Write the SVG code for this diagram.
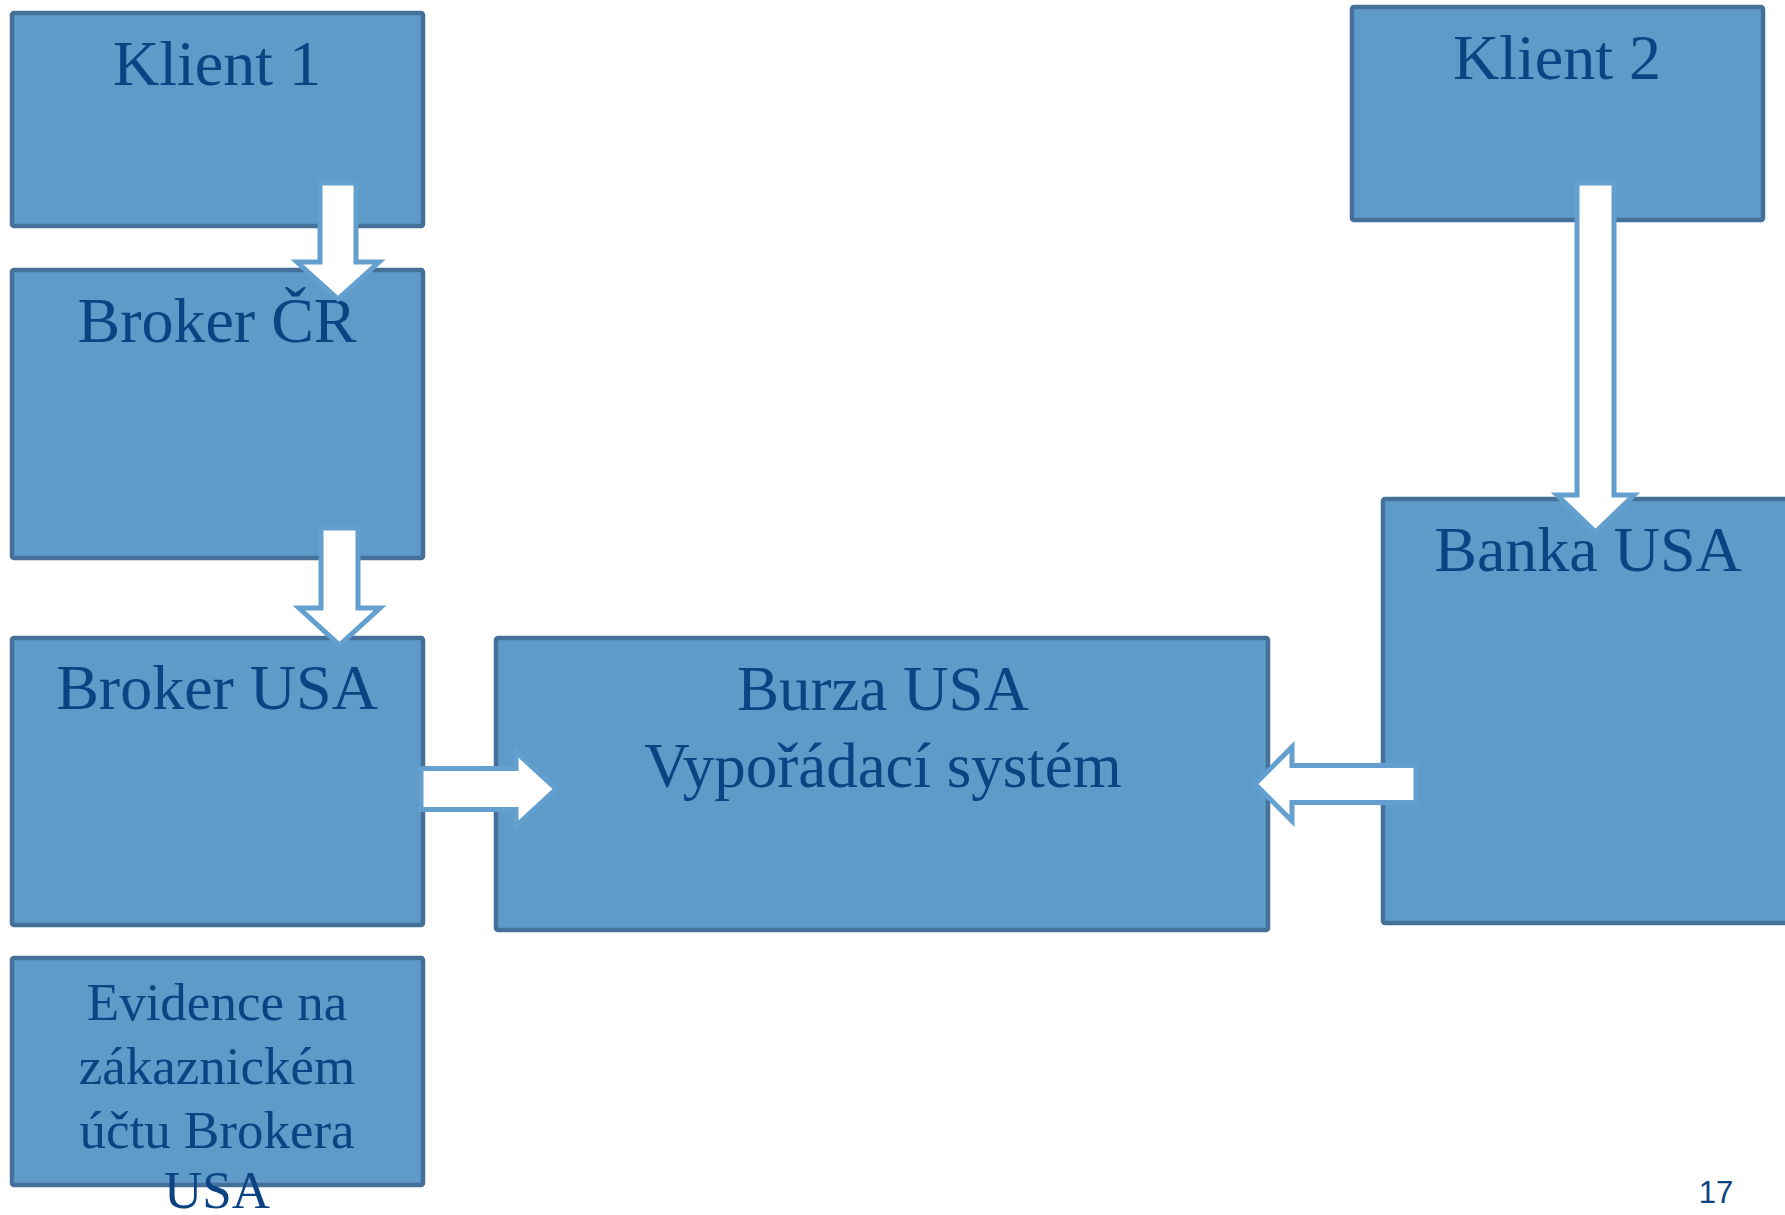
<svg xmlns="http://www.w3.org/2000/svg" width="1785" height="1215" viewBox="0 0 1785 1215">
<style>
.box{fill:#5e9bc8;stroke:#45709a;stroke-width:4.5}
.lbl{font-family:"Liberation Serif","Times New Roman",serif;fill:#0b4383;text-anchor:middle}
.arr{fill:#ffffff;stroke:#63a0cf;stroke-width:5;stroke-linejoin:miter;stroke-miterlimit:10}
</style>
<rect width="1785" height="1215" fill="#ffffff"/>
<g id="klient1"><rect class="box" x="12" y="13" width="411" height="213" rx="2"/><text class="lbl" x="217" y="85" font-size="64">Klient 1</text></g>
<g id="brokerCR"><rect class="box" x="12" y="270" width="411" height="288" rx="2"/><text class="lbl" x="217" y="342" font-size="64">Broker ČR</text></g>
<g id="brokerUSA"><rect class="box" x="12" y="638" width="411" height="287" rx="2"/><text class="lbl" x="217" y="709" font-size="64">Broker USA</text></g>
<g id="evidence"><rect class="box" x="12" y="958" width="411" height="227" rx="2"/><text class="lbl" font-size="53"><tspan x="217" y="1020">Evidence na</tspan><tspan x="217" y="1084">zákaznickém</tspan><tspan x="217" y="1148">účtu Brokera</tspan><tspan x="217" y="1208">USA</tspan></text></g>
<g id="burza"><rect class="box" x="496" y="638" width="772" height="292" rx="2"/><text class="lbl" font-size="63"><tspan x="883" y="710">Burza USA</tspan><tspan x="883" y="787">Vypořádací systém</tspan></text></g>
<g id="klient2"><rect class="box" x="1352" y="7" width="411" height="213" rx="2"/><text class="lbl" x="1557" y="79" font-size="64">Klient 2</text></g>
<g id="bankaUSA"><rect class="box" x="1383" y="499" width="420" height="424" rx="2"/><text class="lbl" x="1588" y="571" font-size="64">Banka USA</text></g>
<g id="connectors">
<path class="arr" d="M320,183 H356 V262 H379 L338,299 L297,262 H320 Z"/>
<path class="arr" d="M321,528 H358 V608 H380 L339.5,645 L299,608 H321 Z"/>
<path class="arr" d="M1577,183 H1614 V495 H1634 L1595.5,532 L1557,495 H1577 Z"/>
<path class="arr" d="M421,768.5 H516 V752 L556,789 L516,826 V809.5 H421 Z"/>
<path class="arr" d="M1416,765.5 H1292 V747 L1255,784 L1292,821 V802.5 H1416 Z"/>
</g>
<text x="1716" y="1203" font-family="'Liberation Sans',Arial,sans-serif" font-size="31" fill="#0b4383" text-anchor="middle">17</text>
</svg>
